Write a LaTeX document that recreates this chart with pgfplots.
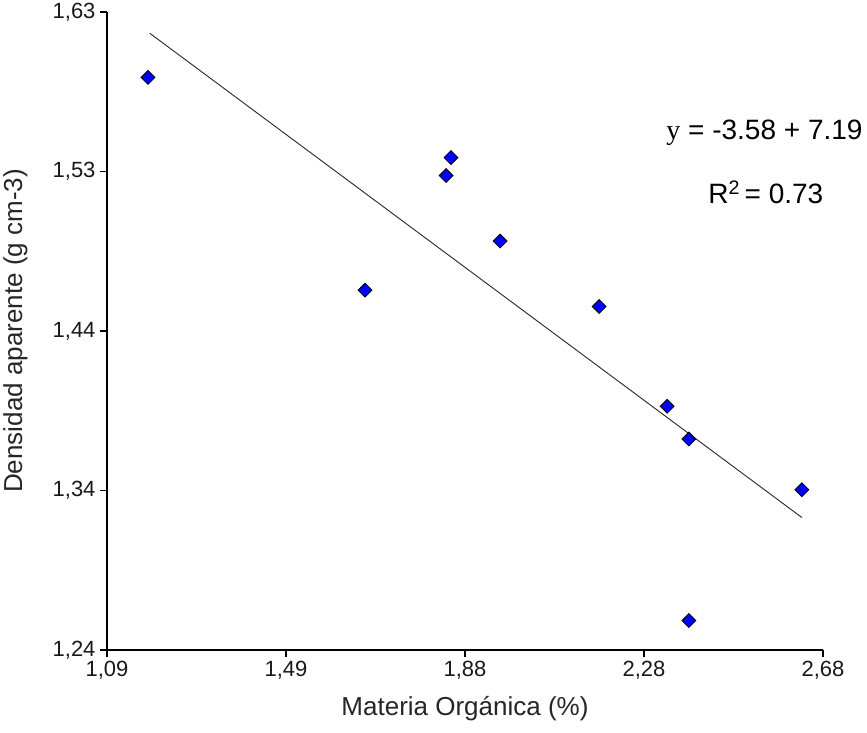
\documentclass[border=0pt]{standalone}
\usepackage{fontspec}
\setmainfont{Liberation Sans}
\newfontfamily\seriffont{Liberation Serif}
\usepackage{pgfplots}
\pgfplotsset{compat=1.18}

\definecolor{ptblue}{RGB}{0,0,255}
\definecolor{labelgray}{RGB}{38,38,38}

% bulk density against organic matter
\pgfplotstableread{
mo     da
1.181  1.590
1.663  1.460
1.843  1.530
1.854  1.541
1.963  1.490
2.183  1.450
2.334  1.389
2.382  1.369
2.633  1.338
2.382  1.258
}\datos

% fitted line over the data range
\pgfplotstableread{
mo     da
1.185  1.617
2.633  1.321
}\ajuste

\begin{document}
\begin{tikzpicture}
\path[use as bounding box] (-107bp,-83bp) rectangle (760bp,650bp);
\begin{axis}[
  scale only axis,
  width=716bp, height=638bp,
  xmin=1.09, xmax=2.68,
  ymin=1.24, ymax=1.63,
  axis x line*=bottom,
  axis y line*=left,
  axis line style={-, line width=1.4bp, black},
  tick align=outside,
  major tick length=7bp,
  tick style={line width=1.4bp, black},
  xtick={1.09,1.4875,1.885,2.2825,2.68},
  xticklabels={{1,09},{1,49},{1,88},{2,28},{2,68}},
  ytick={1.24,1.3375,1.435,1.5325,1.63},
  yticklabels={{1,24},{1,34},{1,44},{1,53},{1,63}},
  ticklabel style={font=\fontsize{22bp}{26bp}\selectfont, text=black!90},
  xticklabel style={yshift=-1bp},
  yticklabel style={xshift=-1bp},
  /pgf/number format/assume math mode=true,
  xlabel={Materia Orgánica (\%)},
  ylabel={Densidad aparente (g cm-3)},
  label style={font=\fontsize{26bp}{30bp}\selectfont, text=labelgray},
  xlabel style={at={(axis description cs:0.5,0)}, anchor=north, yshift=-43bp},
  ylabel style={at={(axis description cs:0,0.5)}, anchor=south, yshift=76bp},
  clip=false,
]
\addplot[black!85, line width=0.9bp] table[x=mo, y=da] {\ajuste};
\addplot[only marks, mark=square*, mark size=4.9bp,
  mark options={rotate=45, fill=ptblue, draw=black, line width=0.8bp}]
  table[x=mo, y=da] {\datos};
\node[font=\fontsize{28bp}{32bp}\selectfont, text=black] at (axis cs:2.550,1.556)
  {{\seriffont y} = -3.58 + 7.19};
\node[font=\fontsize{28bp}{32bp}\selectfont, text=black] at (axis cs:2.553,1.520)
  {R\textsuperscript{2}\,= 0.73};
\end{axis}
\end{tikzpicture}
\end{document}
